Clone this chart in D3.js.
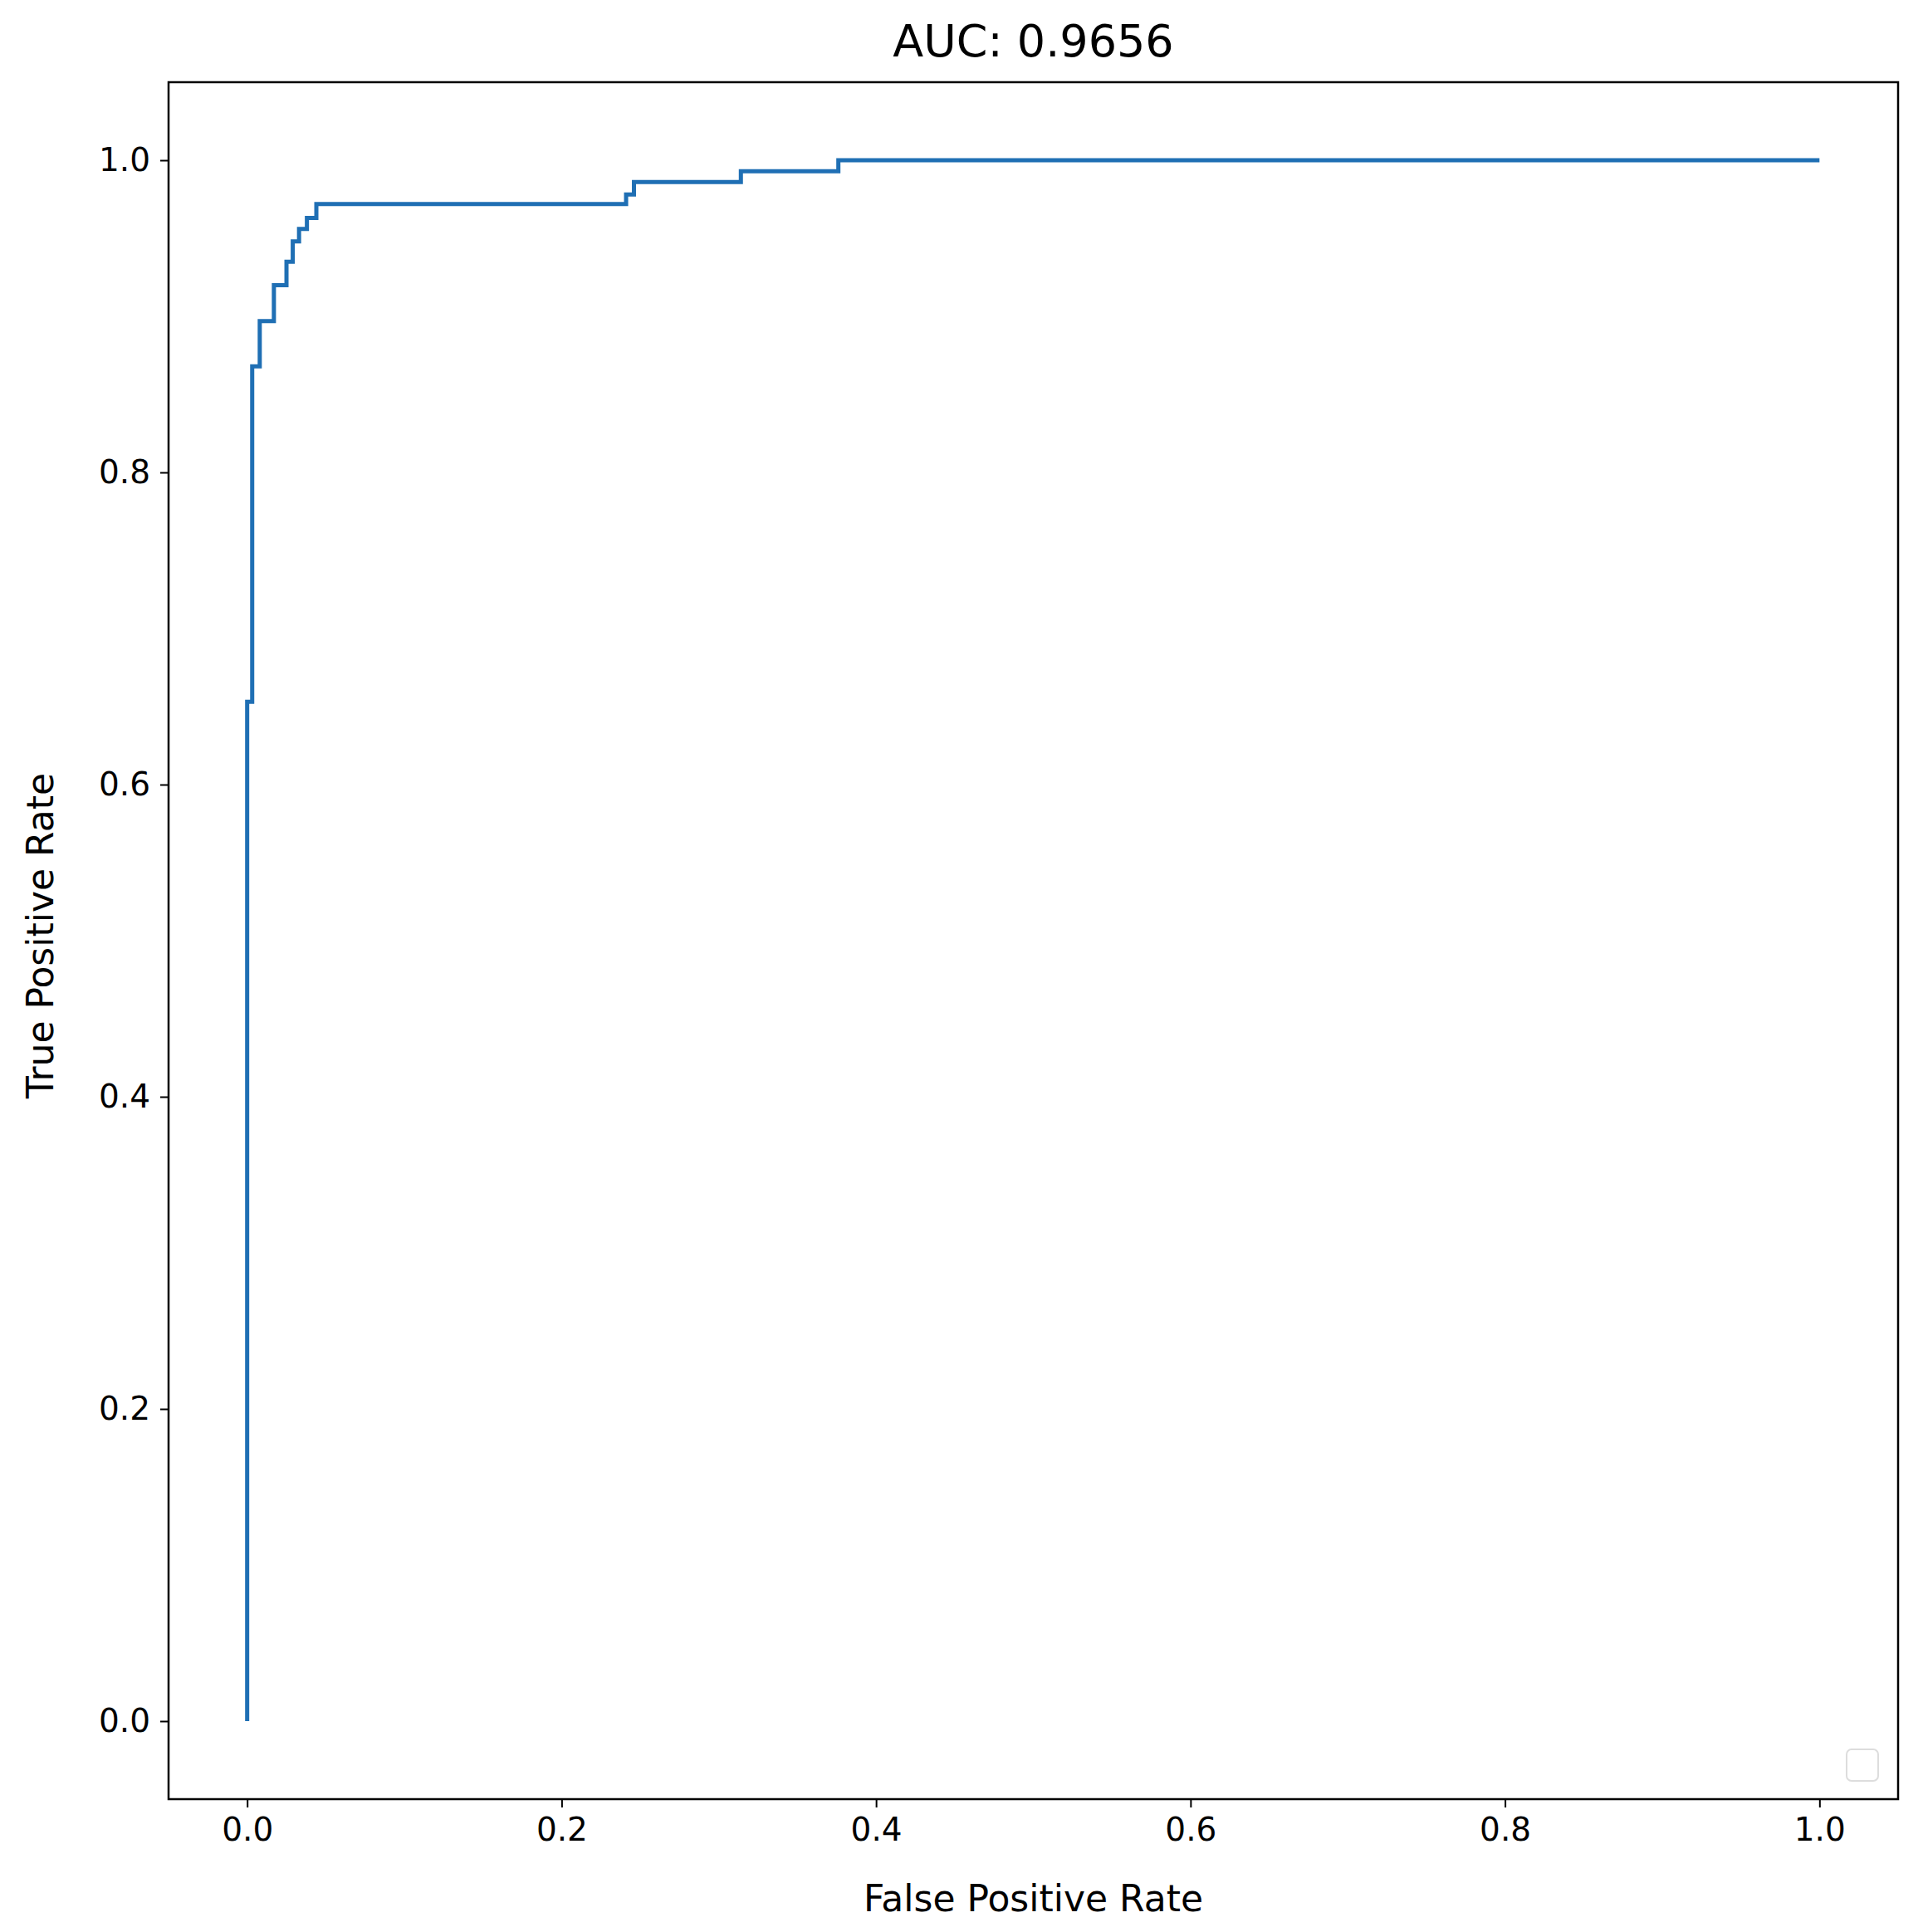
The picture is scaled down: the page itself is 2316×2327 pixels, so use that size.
<!DOCTYPE html>
<html><head><meta charset="utf-8">
<script src="https://cdn.jsdelivr.net/npm/d3@7"></script>
<style>body{margin:0;background:#fff}text{font-family:"DejaVu Sans",sans-serif;fill:#000}</style>
</head><body>
<svg id="c" width="2316" height="2327"></svg>
<script>
const fpr = [0, 0, 0.0032, 0.0032, 0.008, 0.008, 0.017, 0.017, 0.025, 0.025, 0.029, 0.029, 0.033, 0.033, 0.038, 0.038, 0.044, 0.044, 0.241, 0.241, 0.246, 0.246, 0.314, 0.314, 0.376, 0.376, 1.0];
const tpr = [0, 0.653, 0.653, 0.868, 0.868, 0.897, 0.897, 0.920, 0.920, 0.935, 0.935, 0.948, 0.948, 0.956, 0.956, 0.963, 0.963, 0.972, 0.972, 0.978, 0.978, 0.986, 0.986, 0.993, 0.993, 1.0, 1.0];
const ticks = [0, 0.2, 0.4, 0.6, 0.8, 1.0];
const title = "AUC: 0.9656", xLabel = "False Positive Rate", yLabel = "True Positive Rate";

const L=203,R=2286,T=99,B=2167;
const svg=d3.select("#c");
const x=d3.scaleLinear().domain([-0.05,1.05]).range([L,R]);
const y=d3.scaleLinear().domain([-0.05,1.05]).range([B,T]);
const xa=svg.append("g").attr("transform",`translate(0,${B})`).call(d3.axisBottom(x).tickValues(ticks).tickFormat(d3.format(".1f")).tickSize(10).tickPadding(12));
const ya=svg.append("g").attr("transform",`translate(${L},0)`).call(d3.axisLeft(y).tickValues(ticks).tickFormat(d3.format(".1f")).tickSize(10).tickPadding(12));
[xa,ya].forEach(a=>{a.select(".domain").remove();a.selectAll("line").attr("stroke","#000").attr("stroke-width",2);a.selectAll("text").attr("font-size",39).attr("font-family","DejaVu Sans");});
const line=d3.line().x((d,i)=>x(fpr[i])).y((d,i)=>y(tpr[i]));
svg.append("path").datum(fpr).attr("d",line).attr("fill","none").attr("stroke","#1f6fb4").attr("stroke-width",5);
svg.append("rect").attr("x",L).attr("y",T).attr("width",R-L).attr("height",B-T).attr("fill","none").attr("stroke","#000").attr("stroke-width",2.5);
svg.append("rect").attr("x",2224).attr("y",2107).attr("width",38).attr("height",38).attr("rx",6).attr("fill","#fff").attr("stroke","#ddd").attr("stroke-width",2);
svg.append("text").attr("x",(L+R)/2).attr("y",68).attr("text-anchor","middle").attr("font-size",54).text(title);
svg.append("text").attr("x",(L+R)/2).attr("y",2302).attr("text-anchor","middle").attr("font-size",44).text(xLabel);
svg.append("text").attr("transform",`translate(64,${(T+B)/2 - 6}) rotate(-90)`).attr("text-anchor","middle").attr("font-size",44).text(yLabel);
</script></body></html>
